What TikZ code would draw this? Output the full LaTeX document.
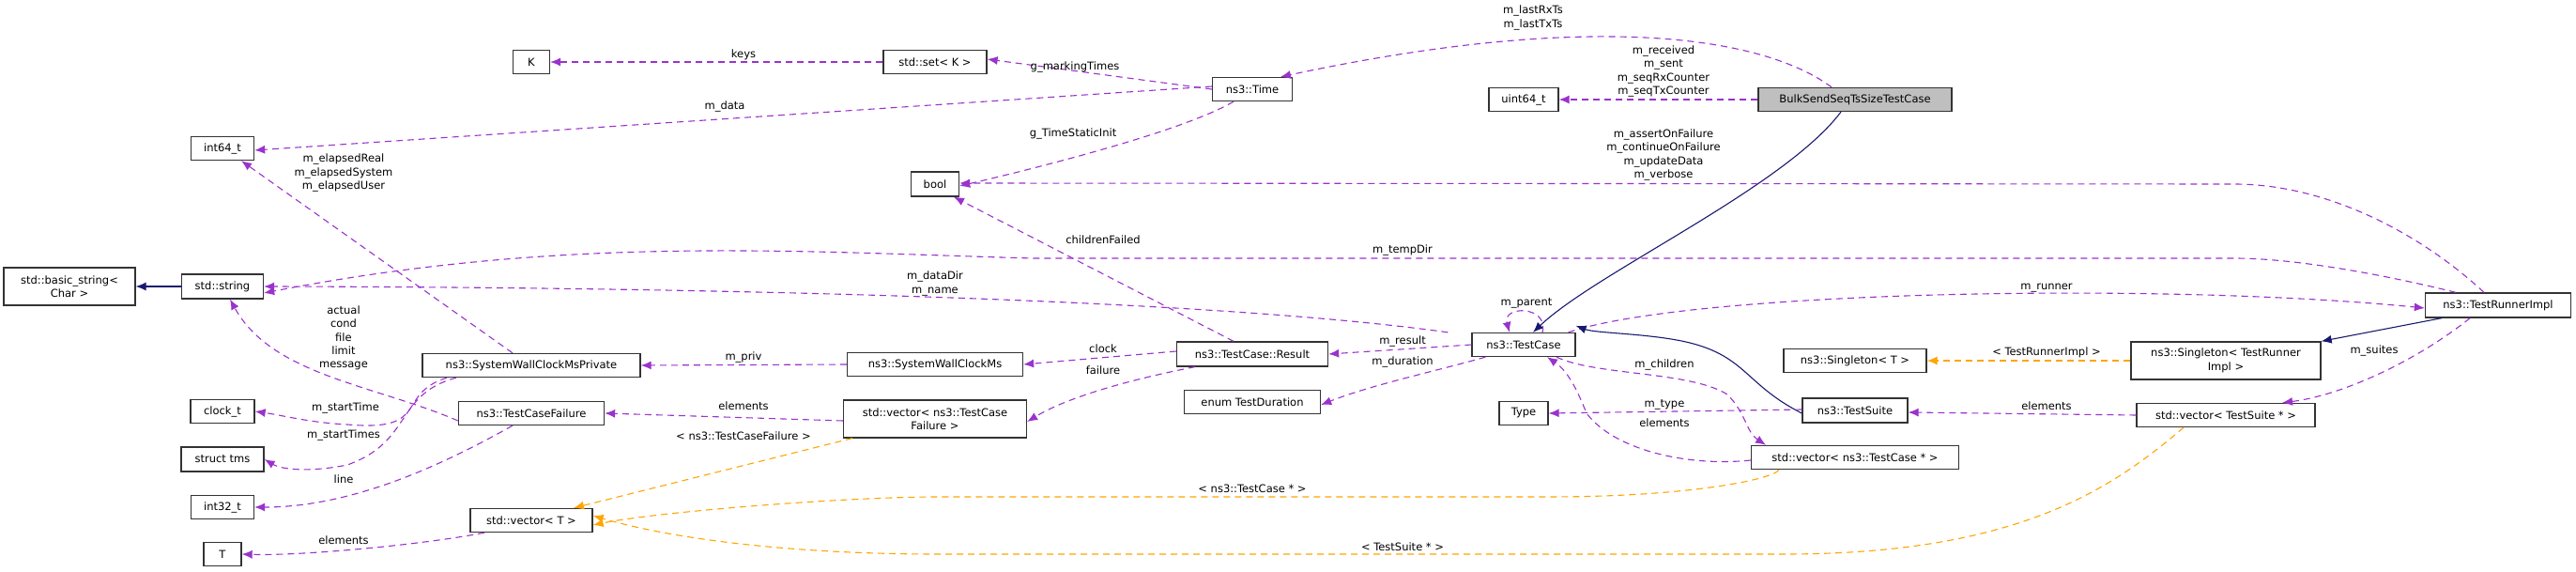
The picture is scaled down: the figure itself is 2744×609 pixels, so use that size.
\documentclass[tikz,border=0pt]{standalone}
\usepackage{fontspec}
\setmainfont{DejaVu Sans}
\usetikzlibrary{arrows.meta}
\definecolor{dpurple}{HTML}{9A32CD}
\definecolor{dorange}{HTML}{FFA500}
\definecolor{dnavy}{HTML}{191970}
\definecolor{dgray}{HTML}{BFBFBF}
\begin{document}
\begin{tikzpicture}[x=1pt,y=-1pt,
  font=\fontsize{11.5}{14.4}\selectfont,
  box/.style={draw=black!80,line width=1.3pt,inner sep=0pt,align=center,fill=white},
  lbl/.style={inner sep=0pt,align=center,fill=none},
  use/.style={draw=dpurple,line width=1.1pt,dash pattern=on 7pt off 5pt,-{Latex[length=11pt,width=9pt]}},
  tmpl/.style={draw=dorange,line width=1.1pt,dash pattern=on 7pt off 5pt,-{Latex[length=11pt,width=9pt]}},
  inh/.style={draw=dnavy,line width=1.1pt,-{Latex[length=11pt,width=9pt]}}]
\useasboundingbox (0,0) rectangle (2744,609);
\newcommand{\bx}[5]{\node[box,minimum width=#3pt,minimum height=#4pt] (#1) at (#2) {#5};}
\bx{K}{566,66}{39}{25}{K}
\bx{int64}{237,158}{67}{25}{int64\_t}
\node[box,minimum width=140pt,minimum height=40pt] (bstr) at (74,305) {std::basic\_string<\\Char >};
\bx{str}{237,305}{87}{26}{std::string}
\bx{swcmp}{566,389}{232}{25}{ns3::SystemWallClockMsPrivate}
\bx{tcf}{566,440}{155}{25}{ns3::TestCaseFailure}
\bx{clock}{237,438}{68}{25}{clock\_t}
\bx{tms}{237,489}{88}{26}{struct tms}
\bx{int32}{237,540}{67}{25}{int32\_t}
\bx{T}{237,590}{40}{25}{T}
\bx{vecT}{566,554}{130}{25}{std::vector< T >}
\bx{set}{996,66}{110}{25}{std::set< K >}
\bx{bool}{996,196}{51}{26}{bool}
\bx{swcm}{996,388}{187}{25}{ns3::SystemWallClockMs}
\bx{vecTCF}{996,446}{195}{40}{std::vector< ns3::TestCase\\Failure >}
\bx{time}{1334,95}{85}{25}{ns3::Time}
\bx{uint64}{1623,106}{74}{25}{uint64\_t}
\node[box,fill=dgray,minimum width=206pt,minimum height=25pt] (bulk) at (1976,106) {BulkSendSeqTsSizeTestCase};
\bx{tc}{1623,367}{110}{25}{ns3::TestCase}
\bx{res}{1334,377}{161}{26}{ns3::TestCase::Result}
\bx{dur}{1334,428}{145}{25}{enum TestDuration}
\bx{type}{1623,440}{52}{25}{Type}
\bx{vecTC}{1976,487}{221}{25}{std::vector< ns3::TestCase * >}
\bx{singT}{1976,384}{152}{25}{ns3::Singleton< T >}
\bx{suite}{1976,437}{112}{26}{ns3::TestSuite}
\bx{singTRI}{2371,384}{202}{40}{ns3::Singleton< TestRunner\\Impl >}
\bx{vecTS}{2371,442}{190}{25}{std::vector< TestSuite * >}
\bx{tri}{2661,325}{155}{26}{ns3::TestRunnerImpl}

% edges
\draw[use] (set.west) -- (K.east);
\draw[use] (time.west) -- ([yshift=3pt]set.east);
\draw[use] ([yshift=3pt]time.west) -- ([yshift=-2pt]int64.east);
\draw[use] ([xshift=-20pt]time.south) .. controls (1260,140) and (1100,180) .. ([yshift=-2pt]bool.east);
\draw[use] ([xshift=-25pt]bulk.north) .. controls (1880,40) and (1700,10) .. ([xshift=30pt]time.north);
\draw[use] (bulk.west) -- (uint64.east);
\draw[inh] ([xshift=-15pt]bulk.south) .. controls (1900,200) and (1700,290) .. ([xshift=10pt]tc.north);
\draw[use] ([xshift=-15pt]tri.north) .. controls (2580,250) and (2480,196) .. (2380,196) -- ([yshift=1pt]bool.east);
\draw[use] ([xshift=-45pt]tri.north) .. controls (2550,295) and (2450,275) .. (2380,275) -- (1100,275) .. controls (850,268) and (600,250) .. ([yshift=-7pt]str.east);
\draw[use] ([xshift=-25pt]tc.north west) .. controls (1300,320) and (800,306) .. (str.east);
\draw[use] ([xshift=-20pt]res.north) -- ([xshift=20pt]bool.south);
\draw[use] ([xshift=-20pt]swcmp.north) -- ([xshift=20pt]int64.south);
\draw[inh] (str.west) -- (bstr.east);
\draw[use] ([yshift=-8pt]tcf.west) .. controls (400,410) and (290,400) .. ([xshift=8pt]str.south);
\draw[use] ([xshift=-90pt]swcmp.south) .. controls (420,420) and (460,460) .. (370,452) .. controls (330,450) and (300,442) .. (clock.east);
\draw[use] ([xshift=-80pt]swcmp.south) .. controls (420,420) and (440,470) .. (370,495) .. controls (330,503) and (300,500) .. (tms.east);
\draw[use] ([xshift=-20pt]tcf.south) .. controls (480,490) and (380,540) .. (int32.east);
\draw[use] ([xshift=-50pt]vecT.south) .. controls (450,580) and (320,592) .. (T.east);
\draw[use] (swcm.west) -- (swcmp.east);
\draw[use] ([yshift=-2pt]vecTCF.west) -- (tcf.east);
\draw[tmpl] ([xshift=10pt]vecTCF.south west) -- ([xshift=45pt]vecT.north);
\draw[use] ([yshift=3pt]res.west) -- (swcm.east);
\draw[use] ([xshift=20pt]res.south west) .. controls (1250,395) and (1150,415) .. ([yshift=-3pt]vecTCF.east);
\draw[use] (tc.west) -- (res.east);
\draw[use] ([xshift=15pt]tc.south west) .. controls (1530,395) and (1460,410) .. ([yshift=-3pt]dur.east);
\draw[use] ([xshift=20pt]tc.north) .. controls (1650,325) and (1600,325) .. ([xshift=-15pt]tc.north);
\draw[use] ([xshift=-8pt]tc.north east) .. controls (1800,310) and (2300,300) .. ([yshift=-3pt]tri.west);
\draw[use] ([xshift=35pt]tc.south) .. controls (1700,400) and (1800,395) .. (1840,420) .. controls (1860,440) and (1860,460) .. ([xshift=-95pt]vecTC.north);
\draw[use] ([yshift=-3pt]vecTC.west) .. controls (1800,497) and (1720,480) .. (1690,440) .. controls (1680,415) and (1670,395) .. ([xshift=25pt]tc.south);
\draw[inh] ([yshift=-3pt]suite.west) .. controls (1860,410) and (1860,380) .. (1800,365) .. controls (1760,355) and (1700,355) .. ([yshift=7pt]tc.north east);
\draw[use] ([yshift=1pt]suite.west) -- (type.east);
\draw[tmpl] ([xshift=30pt]vecTC.south west) .. controls (1890,510) and (1800,529) .. (1650,529) -- (1000,529) .. controls (900,529) and (700,545) .. ([yshift=-5pt]vecT.east);
\draw[tmpl] ([xshift=-45pt]vecTS.south) .. controls (2250,520) and (2150,590) .. (1900,590) -- (1000,590) .. controls (850,590) and (720,575) .. ([yshift=5pt]vecT.east);
\draw[tmpl] (singTRI.west) -- (singT.east);
\draw[inh] ([xshift=-60pt]tri.south) -- (singTRI.north east);
\draw[use] ([xshift=-30pt]tri.south) .. controls (2580,380) and (2500,420) .. ([xshift=60pt]vecTS.north);
\draw[use] (vecTS.west) -- ([yshift=-2pt]suite.east);
% labels
\node[lbl] (l1) at (792,58) {keys};
\node[lbl] (l2) at (1145,71) {g\_markingTimes};
\node[lbl] (l3) at (772,113) {m\_data};
\node[lbl] (l4) at (1143,142) {g\_TimeStaticInit};
\node[lbl] (l5) at (1633,19) {m\_lastRxTs\\m\_lastTxTs};
\node[lbl] (l6) at (1772,76) {m\_received\\m\_sent\\m\_seqRxCounter\\m\_seqTxCounter};
\node[lbl] (l7) at (1772,165) {m\_assertOnFailure\\m\_continueOnFailure\\m\_updateData\\m\_verbose};
\node[lbl] (l8) at (1494,266) {m\_tempDir};
\node[lbl] (l9) at (996,302) {m\_dataDir\\m\_name};
\node[lbl] (l10) at (1175,255) {childrenFailed};
\node[lbl] (l11) at (366,184) {m\_elapsedReal\\m\_elapsedSystem\\m\_elapsedUser};
\node[lbl] (l12) at (366,360) {actual\\cond\\file\\limit\\message};
\node[lbl] (l13) at (368,434) {m\_startTime};
\node[lbl] (l14) at (366,463) {m\_startTimes};
\node[lbl] (l15) at (366,510) {line};
\node[lbl] (l16) at (366,575) {elements};
\node[lbl] (l17) at (792,380) {m\_priv};
\node[lbl] (l18) at (792,432) {elements};
\node[lbl] (l19) at (792,464) {< ns3::TestCaseFailure >};
\node[lbl] (l20) at (1175,371) {clock};
\node[lbl] (l21) at (1175,394) {failure};
\node[lbl] (l22) at (1494,363) {m\_result};
\node[lbl] (l23) at (1494,385) {m\_duration};
\node[lbl] (l24) at (1626,323) {m\_parent};
\node[lbl] (l25) at (2180,307) {m\_runner};
\node[lbl] (l26) at (1773,388) {m\_children};
\node[lbl] (l27) at (1773,450) {elements};
\node[lbl] (l28) at (1773,431) {m\_type};
\node[lbl] (l29) at (1334,520) {< ns3::TestCase * >};
\node[lbl] (l30) at (1494,582) {< TestSuite * >};
\node[lbl] (l31) at (2180,375) {< TestRunnerImpl >};
\node[lbl] (l32) at (2529,373) {m\_suites};
\node[lbl] (l33) at (2180,432) {elements};
\end{tikzpicture}
\end{document}
